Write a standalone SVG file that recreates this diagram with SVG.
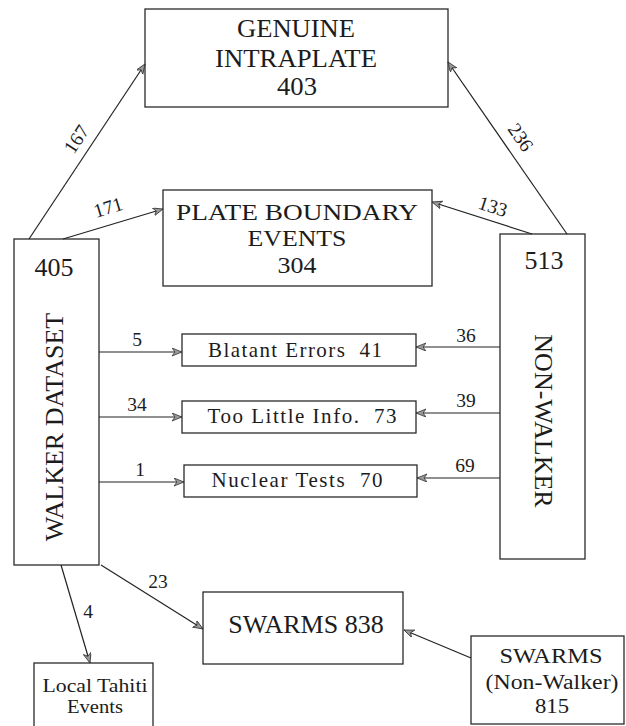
<svg xmlns="http://www.w3.org/2000/svg" width="626" height="726" viewBox="0 0 626 726">
<defs>
<marker id="ah" markerUnits="userSpaceOnUse" markerWidth="12" markerHeight="10" refX="10" refY="4" orient="auto">
<path d="M0,0 L10,4 L0,8 L3,4 z" fill="#9a9a9a" stroke="#333" stroke-width="0.8"/>
</marker>
</defs>
<style>
.box{fill:#fff;stroke:#2a2a2a;stroke-width:1.3}
.t{font-family:"Liberation Serif","Times New Roman",serif;fill:#1c1c1c;text-anchor:middle}
.big{font-size:26px}
.g{font-size:25px}
.p{font-size:23px}
.mid{font-size:21px}
.sm{font-size:18.5px}
.nw{font-size:20.5px}
.num{font-size:19.5px}
.ln{fill:none;stroke:#222;stroke-width:1.2;marker-end:url(#ah)}
</style>
<rect width="626" height="726" fill="#fff"/>

<g id="genuine-intraplate">
<rect class="box" x="145" y="9" width="303" height="98"/>
<text class="t g" x="296" y="37" textLength="118" lengthAdjust="spacingAndGlyphs">GENUINE</text>
<text class="t g" x="296" y="67" textLength="162" lengthAdjust="spacingAndGlyphs">INTRAPLATE</text>
<text class="t g" x="297" y="95" textLength="40" lengthAdjust="spacingAndGlyphs">403</text>
</g>

<g id="plate-boundary">
<rect class="box" x="163" y="190" width="269" height="96"/>
<text class="t p" x="297" y="220" textLength="242" lengthAdjust="spacingAndGlyphs">PLATE BOUNDARY</text>
<text class="t p" x="297" y="246" textLength="99" lengthAdjust="spacingAndGlyphs">EVENTS</text>
<text class="t p" x="297" y="273" textLength="39" lengthAdjust="spacingAndGlyphs">304</text>
</g>

<g id="walker-dataset">
<rect class="box" x="14" y="239" width="85" height="326"/>
<text class="t big" x="54" y="276">405</text>
<text class="t big" transform="translate(63,427) rotate(-90)" x="0" y="0">WALKER DATASET</text>
</g>

<g id="non-walker">
<rect class="box" x="500" y="234" width="85" height="325"/>
<text class="t big" x="544" y="269">513</text>
<text class="t big" transform="translate(535,421) rotate(90)" x="0" y="0">NON-WALKER</text>
</g>

<g id="blatant-errors">
<rect class="box" x="182" y="334" width="234" height="32"/>
<text class="t mid" x="295" y="357" textLength="174" lengthAdjust="spacing" xml:space="preserve">Blatant Errors  41</text>
</g>

<g id="too-little-info">
<rect class="box" x="182" y="401" width="234" height="32"/>
<text class="t mid" x="302" y="423" textLength="189" lengthAdjust="spacing" xml:space="preserve">Too Little Info.  73</text>
</g>

<g id="nuclear-tests">
<rect class="box" x="184" y="465" width="233" height="32"/>
<text class="t mid" x="297" y="487" textLength="171" lengthAdjust="spacing" xml:space="preserve">Nuclear Tests  70</text>
</g>

<g id="swarms">
<rect class="box" x="203" y="592" width="200" height="72"/>
<text class="t big" x="306" y="633">SWARMS 838</text>
</g>

<g id="swarms-non-walker">
<rect class="box" x="471" y="636" width="153" height="88"/>
<text class="t nw" x="551" y="663" textLength="103" lengthAdjust="spacingAndGlyphs">SWARMS</text>
<text class="t nw" x="552" y="689" textLength="133" lengthAdjust="spacingAndGlyphs">(Non-Walker)</text>
<text class="t nw" x="552" y="713" textLength="34" lengthAdjust="spacingAndGlyphs">815</text>
</g>

<g id="local-tahiti">
<rect class="box" x="34" y="663" width="119" height="80"/>
<text class="t sm" x="95" y="692" textLength="105" lengthAdjust="spacingAndGlyphs">Local Tahiti</text>
<text class="t sm" x="95" y="713" textLength="56" lengthAdjust="spacingAndGlyphs">Events</text>
</g>

<g id="connectors">
<line class="ln" x1="29" y1="239" x2="145" y2="64"/>
<line class="ln" x1="567" y1="234" x2="448" y2="62"/>
<line class="ln" x1="63" y1="239" x2="163" y2="209"/>
<line class="ln" x1="532" y1="234" x2="432" y2="202"/>
<line class="ln" x1="99" y1="352" x2="182" y2="352"/>
<line class="ln" x1="99" y1="417" x2="182" y2="417"/>
<line class="ln" x1="99" y1="482" x2="184" y2="482"/>
<line class="ln" x1="500" y1="347" x2="416" y2="347"/>
<line class="ln" x1="500" y1="413" x2="416" y2="413"/>
<line class="ln" x1="500" y1="478" x2="417" y2="478"/>
<line class="ln" x1="101" y1="565" x2="203" y2="629"/>
<line class="ln" x1="61" y1="565" x2="90" y2="663"/>
<line class="ln" x1="471" y1="658" x2="404" y2="630"/>

<text class="t num" transform="translate(76,139) rotate(-56.5)" x="0" y="7">167</text>
<text class="t num" transform="translate(521,137) rotate(55.4)" x="0" y="7">236</text>
<text class="t num" transform="translate(108,207) rotate(-17)" x="0" y="7">171</text>
<text class="t num" transform="translate(493,206) rotate(17.9)" x="0" y="7">133</text>
<text class="t num" x="137" y="346">5</text>
<text class="t num" x="137" y="411">34</text>
<text class="t num" x="140" y="476">1</text>
<text class="t num" x="466" y="342">36</text>
<text class="t num" x="466" y="407">39</text>
<text class="t num" x="465" y="472">69</text>
<text class="t num" x="158" y="588">23</text>
<text class="t num" x="88" y="618">4</text>
</g>
</svg>
